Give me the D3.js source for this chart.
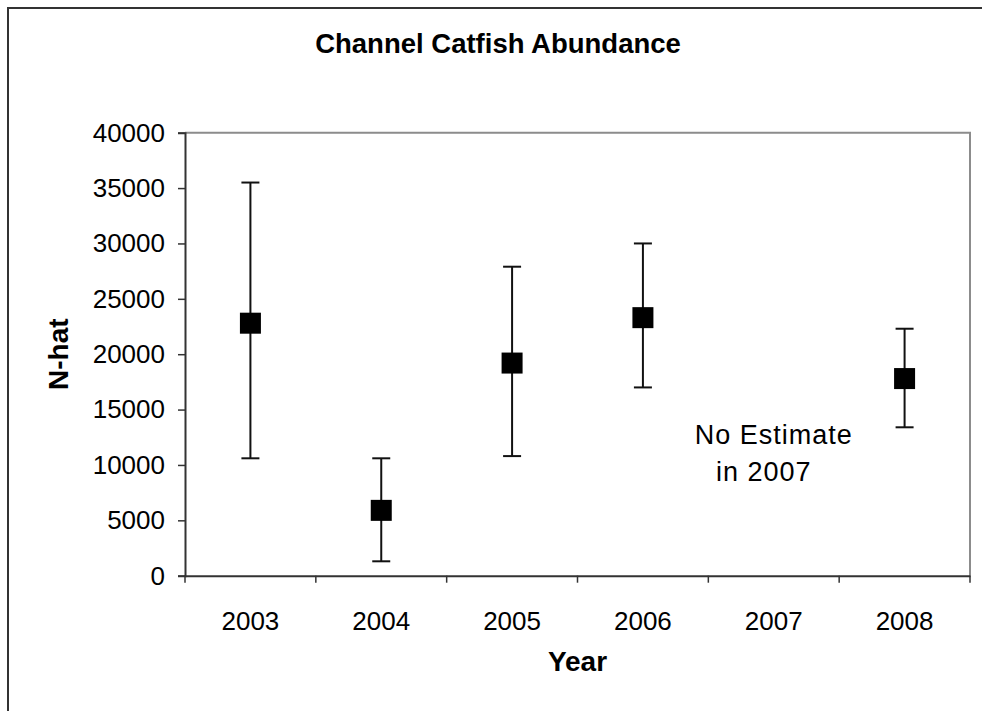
<!DOCTYPE html>
<html>
<head>
<meta charset="utf-8">
<script src="https://cdn.jsdelivr.net/npm/d3@7"></script>
<style>
  html, body { margin: 0; padding: 0; background: #fff; }
  svg { display: block; font-family: "Liberation Sans", Arial, sans-serif; }
</style>
</head>
<body>
<svg id="chart" width="982" height="711"></svg>
<script>
// Channel catfish population estimates (N-hat) with confidence limits
const years = ["2003", "2004", "2005", "2006", "2007", "2008"];
const nhat  = [22800, 5900, 19200, 23300, null, 17800];
const lower = [10600, 1300, 10800, 17000, null, 13400];
const upper = [35500, 10600, 27900, 30000, null, 22300];
const yTicks = [0, 5000, 10000, 15000, 20000, 25000, 30000, 35000, 40000];
const noteLines = ["No Estimate", "in 2007"];

const svg = d3.select("#chart");
const plot = { left: 185, top: 132.7, right: 970, bottom: 575.7 };

// outer chart frame (extends past the right/bottom edge)
svg.append("rect")
  .attr("x", 8).attr("y", 8)
  .attr("width", 1000).attr("height", 720)
  .attr("fill", "none").attr("stroke", "#333").attr("stroke-width", 2);

const x = d3.scaleBand().domain(years).range([plot.left, plot.right]).padding(0);
const y = d3.scaleLinear().domain([0, 40000]).range([plot.bottom, plot.top]);

// plot-area border: top and right in gray
svg.append("path")
  .attr("d", `M${plot.left},${plot.top}H${plot.right}V${plot.bottom}`)
  .attr("fill", "none").attr("stroke", "#8c8c8c").attr("stroke-width", 2);

// y axis
const yAxis = svg.append("g")
  .attr("transform", `translate(${plot.left},0)`)
  .call(d3.axisLeft(y).tickValues(yTicks).tickSize(7).tickPadding(13).tickFormat(d3.format("d")));
yAxis.select(".domain").attr("stroke", "#333").attr("stroke-width", 2);
yAxis.selectAll(".tick line").attr("stroke", "#333").attr("stroke-width", 1.5);
yAxis.selectAll(".tick text")
  .attr("fill", "#000").attr("font-size", 26).attr("font-family", "Liberation Sans, Arial, sans-serif");

// x axis: ticks sit on the category boundaries
const xAxis = svg.append("g")
  .attr("transform", `translate(0,${plot.bottom})`)
  .call(d3.axisBottom(x).tickSize(0).tickPadding(36));
xAxis.select(".domain").attr("stroke", "#333").attr("stroke-width", 2);
xAxis.selectAll(".tick text")
  .attr("fill", "#000").attr("font-size", 26).attr("font-family", "Liberation Sans, Arial, sans-serif");
const bounds = years.map(d => x(d)).concat([x(years[years.length - 1]) + x.bandwidth()]);
xAxis.selectAll(".bound").data(bounds).join("line")
  .attr("class", "bound")
  .attr("x1", d => d).attr("x2", d => d)
  .attr("y1", 0).attr("y2", 7)
  .attr("stroke", "#333").attr("stroke-width", 1.5);

// error bars and markers
const pts = years.map((yr, i) => ({ yr, v: nhat[i], lo: lower[i], hi: upper[i] }))
  .filter(d => d.v != null);
const cx = d => x(d.yr) + x.bandwidth() / 2;
const capW = 9, mk = 21;

const g = svg.append("g");
g.selectAll(".whisker").data(pts).join("line")
  .attr("x1", cx).attr("x2", cx)
  .attr("y1", d => y(d.lo)).attr("y2", d => y(d.hi))
  .attr("stroke", "#111").attr("stroke-width", 2);
g.selectAll(".capHi").data(pts).join("line")
  .attr("x1", d => cx(d) - capW).attr("x2", d => cx(d) + capW)
  .attr("y1", d => y(d.hi)).attr("y2", d => y(d.hi))
  .attr("stroke", "#111").attr("stroke-width", 2);
g.selectAll(".capLo").data(pts).join("line")
  .attr("x1", d => cx(d) - capW).attr("x2", d => cx(d) + capW)
  .attr("y1", d => y(d.lo)).attr("y2", d => y(d.lo))
  .attr("stroke", "#111").attr("stroke-width", 2);
g.selectAll(".marker").data(pts).join("rect")
  .attr("x", d => cx(d) - mk / 2).attr("y", d => y(d.v) - mk / 2)
  .attr("width", mk).attr("height", mk)
  .attr("fill", "#000");

// note for the missing year
const noteX = x("2007") + x.bandwidth() / 2;
svg.append("text")
  .attr("x", noteX).attr("y", 444)
  .attr("text-anchor", "middle").attr("font-size", 27).attr("letter-spacing", 1)
  .text(noteLines[0]);
svg.append("text")
  .attr("x", noteX - 10).attr("y", 481)
  .attr("text-anchor", "middle").attr("font-size", 27).attr("letter-spacing", 1)
  .text(noteLines[1]);

// titles
svg.append("text")
  .attr("x", 498).attr("y", 53)
  .attr("text-anchor", "middle").attr("font-size", 27.5).attr("font-weight", "bold")
  .text("Channel Catfish Abundance");
svg.append("text")
  .attr("x", (plot.left + plot.right) / 2).attr("y", 671)
  .attr("text-anchor", "middle").attr("font-size", 28).attr("font-weight", "bold")
  .text("Year");
svg.append("text")
  .attr("transform", `translate(68,${(plot.top + plot.bottom) / 2}) rotate(-90)`)
  .attr("text-anchor", "middle").attr("font-size", 28).attr("font-weight", "bold")
  .text("N-hat");
</script>
</body>
</html>
